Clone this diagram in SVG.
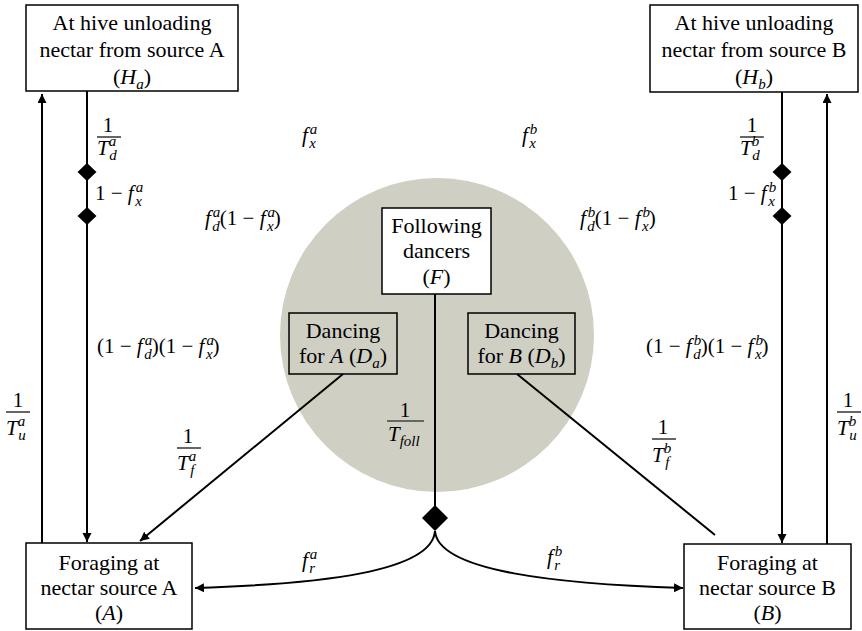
<svg xmlns="http://www.w3.org/2000/svg" width="862" height="631" viewBox="0 0 862 631">
<style>
.box{fill:#fff;stroke:#000;stroke-width:1.5}
.bt{font-family:"Liberation Serif",serif;font-size:22px;fill:#000;text-anchor:middle}
.ln{fill:none;stroke:#000;stroke-width:2}
.m{font-family:"Liberation Serif",serif;font-size:21px;fill:#000}
.c{text-anchor:middle}
.i{font-style:italic}
.s{font-size:15px;font-style:italic}
.bar{stroke:#000;stroke-width:1.2}
.dm{fill:#000}
</style>
<defs>
<marker id="ah" markerWidth="10" markerHeight="10" refX="9" refY="4.5" orient="auto" markerUnits="userSpaceOnUse"><path d="M0,0 L9,4.5 L0,9 z" fill="#000"/></marker>
</defs>
<circle id="dance-floor" cx="437" cy="335" r="157" fill="#cfcfc4"/>
<g id="connectors">
<line class="ln" x1="87" y1="91" x2="87" y2="542" marker-end="url(#ah)"/>
<line class="ln" x1="42" y1="543" x2="42" y2="94" marker-end="url(#ah)"/>
<line class="ln" x1="782" y1="92" x2="782" y2="543" marker-end="url(#ah)"/>
<line class="ln" x1="827" y1="544" x2="827" y2="94" marker-end="url(#ah)"/>
<line class="ln" x1="343" y1="374" x2="140" y2="541" marker-end="url(#ah)"/>
<line class="ln" x1="517" y1="374" x2="715" y2="535"/>
<line class="ln" x1="435" y1="294" x2="435" y2="506"/>
<path class="ln" d="M435,531 C432,572 320,584 195,588" marker-end="url(#ah)"/>
<path class="ln" d="M435,531 C438,572 560,584 683,588" marker-end="url(#ah)"/>
<path class="dm" d="M87,163 L96.5,172 L87,181 L77.5,172 z"/>
<path class="dm" d="M87,207 L96.5,216 L87,225 L77.5,216 z"/>
<path class="dm" d="M782,163 L791.5,172 L782,181 L772.5,172 z"/>
<path class="dm" d="M782,207 L791.5,216 L782,225 L772.5,216 z"/>
<path class="dm" d="M435,505 L448,518 L435,531 L422,518 z"/>
</g>
<g id="Ha">
<rect class="box" x="26" y="5" width="212" height="86"/>
<text class="bt" x="132" y="30">At hive unloading</text>
<text class="bt" x="132" y="57">nectar from source A</text>
<text class="bt" x="132" y="84">(<tspan class="i">H</tspan><tspan class="s" dy="5">a</tspan><tspan dy="-5">)</tspan></text>
</g>
<g id="Hb">
<rect class="box" x="650" y="5" width="208" height="87"/>
<text class="bt" x="754" y="30">At hive unloading</text>
<text class="bt" x="754" y="57">nectar from source B</text>
<text class="bt" x="754" y="84">(<tspan class="i">H</tspan><tspan class="s" dy="5">b</tspan><tspan dy="-5">)</tspan></text>
</g>
<g id="A">
<rect class="box" x="26" y="543" width="166" height="86"/>
<text class="bt" x="109" y="570">Foraging at</text>
<text class="bt" x="109" y="595">nectar source A</text>
<text class="bt" x="109" y="620">(<tspan class="i">A</tspan>)</text>
</g>
<g id="B">
<rect class="box" x="684" y="544" width="167" height="85"/>
<text class="bt" x="767.5" y="570">Foraging at</text>
<text class="bt" x="767.5" y="595">nectar source B</text>
<text class="bt" x="767.5" y="620">(<tspan class="i">B</tspan>)</text>
</g>
<g id="F">
<rect class="box" x="382" y="208" width="109" height="86"/>
<text class="bt" x="436.5" y="233">Following</text>
<text class="bt" x="436.5" y="258">dancers</text>
<text class="bt" x="436.5" y="284">(<tspan class="i">F</tspan>)</text>
</g>
<g id="Da">
<rect class="box" x="289" y="313" width="108" height="61" style="fill:none"/>
<text class="bt" x="343" y="338">Dancing</text>
<text class="bt" x="343" y="363">for <tspan class="i">A</tspan> (<tspan class="i">D</tspan><tspan class="s" dy="5">a</tspan><tspan dy="-5">)</tspan></text>
</g>
<g id="Db">
<rect class="box" x="468" y="313" width="107" height="61" style="fill:none"/>
<text class="bt" x="521.5" y="338">Dancing</text>
<text class="bt" x="521.5" y="363">for <tspan class="i">B</tspan> (<tspan class="i">D</tspan><tspan class="s" dy="5">b</tspan><tspan dy="-5">)</tspan></text>
</g>
<g id="labels">
<!-- fractions -->
<text class="m c" x="108" y="132">1</text>
<line class="bar" x1="97" y1="137" x2="121" y2="137"/>
<text class="m" x="97" y="155"><tspan class="i">T</tspan><tspan class="s" dy="-9">a</tspan><tspan class="s" dx="-7" dy="14">d</tspan></text>

<text class="m c" x="752" y="132">1</text>
<line class="bar" x1="740" y1="137" x2="764" y2="137"/>
<text class="m" x="740" y="155"><tspan class="i">T</tspan><tspan class="s" dy="-9">b</tspan><tspan class="s" dx="-7" dy="14">d</tspan></text>

<text class="m c" x="18" y="407">1</text>
<line class="bar" x1="6" y1="412" x2="30" y2="412"/>
<text class="m" x="6" y="435"><tspan class="i">T</tspan><tspan class="s" dy="-9">a</tspan><tspan class="s" dx="-7" dy="14">u</tspan></text>

<text class="m c" x="848" y="407">1</text>
<line class="bar" x1="837" y1="412" x2="861" y2="412"/>
<text class="m" x="837" y="435"><tspan class="i">T</tspan><tspan class="s" dy="-9">b</tspan><tspan class="s" dx="-7" dy="14">u</tspan></text>

<text class="m c" x="188" y="443">1</text>
<line class="bar" x1="177" y1="448" x2="201" y2="448"/>
<text class="m" x="177" y="470"><tspan class="i">T</tspan><tspan class="s" dy="-9">a</tspan><tspan class="s" dx="-6" dy="14">f</tspan></text>

<text class="m c" x="663" y="434">1</text>
<line class="bar" x1="652" y1="439" x2="676" y2="439"/>
<text class="m" x="652" y="462"><tspan class="i">T</tspan><tspan class="s" dy="-9">b</tspan><tspan class="s" dx="-6" dy="14">f</tspan></text>

<text class="m c" x="405" y="417">1</text>
<line class="bar" x1="387" y1="421" x2="424" y2="421"/>
<text class="m" x="388" y="441"><tspan class="i">T</tspan><tspan class="s" dy="5">foll</tspan></text>

<!-- 1 - f_x -->
<text class="m" x="95" y="200">1 − <tspan class="i">f</tspan><tspan class="s" dx="2" dy="-8">a</tspan><tspan class="s" dx="-8" dy="14">x</tspan></text>
<text class="m" x="728" y="200">1 − <tspan class="i">f</tspan><tspan class="s" dx="2" dy="-8">b</tspan><tspan class="s" dx="-8" dy="14">x</tspan></text>

<!-- f_x top -->
<text class="m" x="302" y="142"><tspan class="i">f</tspan><tspan class="s" dx="2" dy="-8">a</tspan><tspan class="s" dx="-8" dy="14">x</tspan></text>
<text class="m" x="522" y="142"><tspan class="i">f</tspan><tspan class="s" dx="2" dy="-8">b</tspan><tspan class="s" dx="-8" dy="14">x</tspan></text>

<!-- f_d(1 - f_x) -->
<text class="m" x="205" y="225"><tspan class="i">f</tspan><tspan class="s" dx="2" dy="-8">a</tspan><tspan class="s" dx="-8" dy="14">d</tspan><tspan dy="-6">(1 − </tspan><tspan class="i">f</tspan><tspan class="s" dx="2" dy="-8">a</tspan><tspan class="s" dx="-8" dy="14">x</tspan><tspan dy="-6">)</tspan></text>
<text class="m" x="580" y="225"><tspan class="i">f</tspan><tspan class="s" dx="2" dy="-8">b</tspan><tspan class="s" dx="-8" dy="14">d</tspan><tspan dy="-6">(1 − </tspan><tspan class="i">f</tspan><tspan class="s" dx="2" dy="-8">b</tspan><tspan class="s" dx="-8" dy="14">x</tspan><tspan dy="-6">)</tspan></text>

<!-- (1 - f_d)(1 - f_x) -->
<text class="m" x="97" y="353">(1 − <tspan class="i">f</tspan><tspan class="s" dx="2" dy="-8">a</tspan><tspan class="s" dx="-8" dy="14">d</tspan><tspan dy="-6">)(1 − </tspan><tspan class="i">f</tspan><tspan class="s" dx="2" dy="-8">a</tspan><tspan class="s" dx="-8" dy="14">x</tspan><tspan dy="-6">)</tspan></text>
<text class="m" x="646" y="353">(1 − <tspan class="i">f</tspan><tspan class="s" dx="2" dy="-8">b</tspan><tspan class="s" dx="-8" dy="14">d</tspan><tspan dy="-6">)(1 − </tspan><tspan class="i">f</tspan><tspan class="s" dx="2" dy="-8">b</tspan><tspan class="s" dx="-8" dy="14">x</tspan><tspan dy="-6">)</tspan></text>

<!-- f_r -->
<text class="m" x="302" y="567"><tspan class="i">f</tspan><tspan class="s" dx="2" dy="-8">a</tspan><tspan class="s" dx="-8" dy="14">r</tspan></text>
<text class="m" x="547" y="564"><tspan class="i">f</tspan><tspan class="s" dx="2" dy="-8">b</tspan><tspan class="s" dx="-8" dy="14">r</tspan></text>
</g>
</svg>
